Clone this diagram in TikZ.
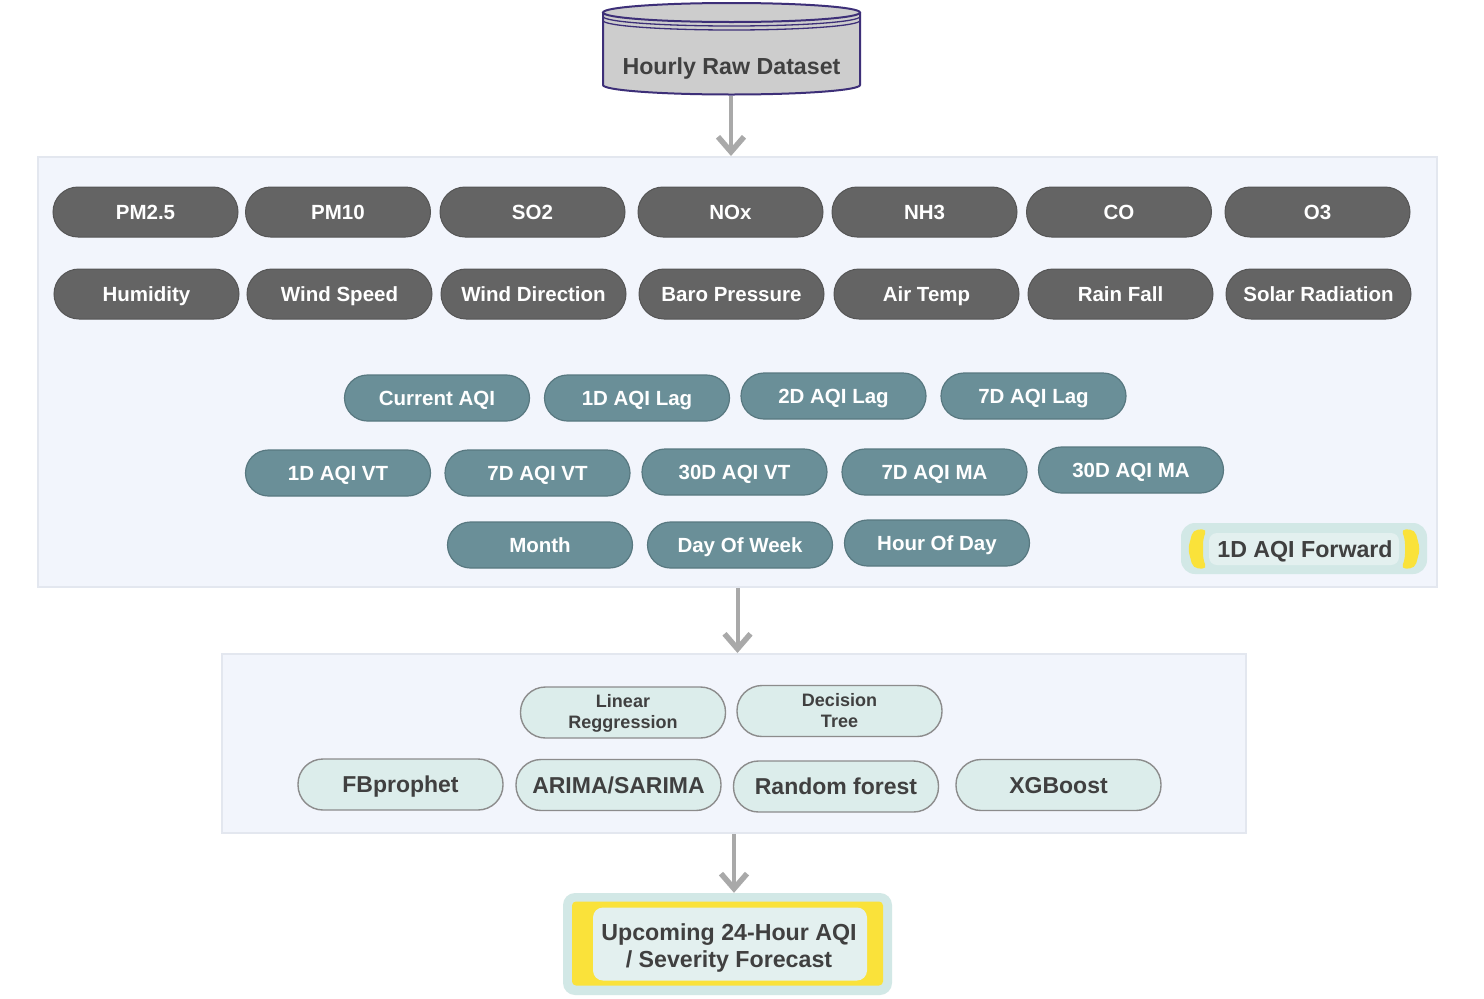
\documentclass[tikz,border=0pt]{standalone}
\usepackage{fontspec}
\setmainfont{Liberation Sans}
\usetikzlibrary{arrows.meta}
\definecolor{panelfill}{HTML}{F2F5FC}
\definecolor{paneledge}{HTML}{E3E7EF}
\definecolor{darkpillc}{HTML}{646464}
\definecolor{darkedge}{HTML}{555555}
\definecolor{tealc}{HTML}{6A8F98}
\definecolor{tealedge}{HTML}{587880}
\definecolor{palec}{HTML}{DCEDEB}
\definecolor{paleedge}{HTML}{8C8C8C}
\definecolor{txtdark}{HTML}{404040}
\definecolor{arrowc}{HTML}{A9A9A9}
\definecolor{cylfill}{HTML}{CDCDCD}
\definecolor{cyledge}{HTML}{3D2F78}
\definecolor{outerteal}{HTML}{D2E8E6}
\definecolor{innerteal}{HTML}{E3F0EF}
\definecolor{yellowc}{HTML}{FAE23A}
\begin{document}
\begin{tikzpicture}[x=1pt,y=-1pt,
  panel/.style={draw=paneledge, line width=2pt, fill=panelfill, inner sep=0pt},
  pillbase/.style={inner sep=0pt, align=center},
  darkpill/.style={pillbase, draw=darkedge, line width=1pt, fill=darkpillc, text=white,
    rounded corners=25pt, minimum width=185pt, minimum height=50pt,
    font=\fontsize{20.5}{24}\selectfont\bfseries, text height=15pt, text depth=0pt},
  tealpill/.style={pillbase, draw=tealedge, line width=1.2pt, fill=tealc, text=white,
    rounded corners=23pt, minimum width=185pt, minimum height=46pt,
    font=\fontsize{20.5}{24}\selectfont\bfseries, text height=15pt, text depth=0pt},
  modelpill/.style={pillbase, draw=paleedge, line width=1.4pt, fill=palec, text=txtdark,
    rounded corners=25pt, minimum width=205pt, minimum height=51pt,
    font=\fontsize{23}{27}\selectfont\bfseries, text height=16.5pt, text depth=0pt},
  smalltext/.style={inner sep=0pt, align=center, text=txtdark,
    font=\fontsize{18}{21}\selectfont\bfseries, text height=13pt, text depth=0pt},
  flow/.style={draw=arrowc, line width=4pt, -{Straight Barb[length=15pt,width=26pt,line width=5.5pt]}},
  bigtext/.style={inner sep=0pt, align=center, text=txtdark, font=\fontsize{23.2}{27}\selectfont\bfseries,
    text height=16.6pt, text depth=0pt}
]
\useasboundingbox (0,0) rectangle (1484,999);
\fill[white] (0,0) rectangle (1484,999);

% panels
\node[panel, minimum width=1399pt, minimum height=430pt] (panel1) at (737.5,372) {};
\node[panel, minimum width=1024pt, minimum height=179pt] (panel2) at (734,743.5) {};

% cylinder
\fill[cylfill] (603,12.5) -- (603,85) .. controls (603,90.25) and (660.5,94.5) .. (731.5,94.5)
  .. controls (802.5,94.5) and (860,90.25) .. (860,85) -- (860,12.5) -- cycle;
\draw[cyledge, line width=2pt] (603,12.5) -- (603,85) .. controls (603,90.25) and (660.5,94.5) .. (731.5,94.5)
  .. controls (802.5,94.5) and (860,90.25) .. (860,85) -- (860,12.5);
\draw[cyledge, line width=2pt, fill=cylfill] (731.5,12.5) ellipse [x radius=128.5, y radius=9.5];
\draw[cyledge, line width=1.3pt] (603,16.5) .. controls (603,21.75) and (660.5,26) .. (731.5,26)
  .. controls (802.5,26) and (860,21.75) .. (860,16.5);
\draw[cyledge, line width=1.3pt] (603,20.5) .. controls (603,25.75) and (660.5,30) .. (731.5,30)
  .. controls (802.5,30) and (860,25.75) .. (860,20.5);
\node[bigtext] (dataset) at (731.5,66) {Hourly Raw Dataset};
\coordinate (cylbot) at (731,95.5);

% row 1
\node[darkpill] (pm25) at (145.5,212) {PM2.5};
\node[darkpill] (pm10) at (338,212) {PM10};
\node[darkpill] (so2)  at (532.5,212) {SO2};
\node[darkpill] (nox)  at (730.5,212) {NOx};
\node[darkpill] (nh3)  at (924.5,212) {NH3};
\node[darkpill] (co)   at (1119,212) {CO};
\node[darkpill] (o3)   at (1317.5,212) {O3};
% row 2
\node[darkpill] (hum)  at (146.5,294) {Humidity};
\node[darkpill] (wsp)  at (339.5,294) {Wind Speed};
\node[darkpill] (wdir) at (533.5,294) {Wind Direction};
\node[darkpill] (baro) at (731.5,294) {Baro Pressure};
\node[darkpill] (air)  at (926.5,294) {Air Temp};
\node[darkpill] (rain) at (1120.5,294) {Rain Fall};
\node[darkpill] (sol)  at (1318.5,294) {Solar Radiation};
% row 3
\node[tealpill] (cur)  at (437,398) {Current AQI};
\node[tealpill] (lag1) at (637,398) {1D AQI Lag};
\node[tealpill] (lag2) at (833.5,396) {2D AQI Lag};
\node[tealpill] (lag7) at (1033.5,396) {7D AQI Lag};
% row 4
\node[tealpill] (vt1)  at (338,473) {1D AQI VT};
\node[tealpill] (vt7)  at (537.5,473) {7D AQI VT};
\node[tealpill] (vt30) at (734.5,472) {30D AQI VT};
\node[tealpill] (ma7)  at (934.5,472) {7D AQI MA};
\node[tealpill] (ma30) at (1131,470) {30D AQI MA};
% row 5
\node[tealpill] (month) at (540,545) {Month};
\node[tealpill] (dow)   at (740,545) {Day Of Week};
\node[tealpill] (hod)   at (937,543) {Hour Of Day};

% 1D AQI Forward
\node[fill=outerteal, rounded corners=14pt, minimum width=246pt, minimum height=51pt, inner sep=0pt] (fwdout) at (1304,548.5) {};
\fill[yellowc, rounded corners=5pt] (1207,529) -- (1193,530) -- (1188,549) -- (1193,568) -- (1207,569) -- (1203,559) -- (1203,539) -- cycle;
\fill[yellowc, rounded corners=5pt] (1401,529) -- (1415,530) -- (1420,549) -- (1415,568) -- (1401,569) -- (1405,559) -- (1405,539) -- cycle;
\node[fill=innerteal, rounded corners=8pt, minimum width=190pt, minimum height=32pt, inner sep=0pt] (fwdin) at (1304,549) {};
\node[bigtext] (fwd) at (1305,549) {1D AQI Forward};

% models
\node[modelpill] (lin) at (623,712.5) {};
\node[smalltext] (lintext) at (623,722) {Linear\\Reggression};
\node[modelpill] (dt)  at (839.5,711) {};
\node[smalltext] (dttext) at (839.5,721) {Decision\\Tree};
\node[modelpill] (fb)    at (400.5,784.5) {FBprophet};
\node[modelpill] (arima) at (618.5,785) {ARIMA/SARIMA};
\node[modelpill] (rf)    at (836,786.5) {Random forest};
\node[modelpill] (xgb)   at (1058.5,785) {XGBoost};

% forecast
\node[fill=outerteal, rounded corners=12pt, minimum width=329pt, minimum height=102pt, inner sep=0pt] (fcout) at (727.5,944) {};
\node[fill=yellowc, rounded corners=4pt, minimum width=311pt, minimum height=84pt, inner sep=0pt] (fcy) at (727.5,943.5) {};
\node[fill=innerteal, rounded corners=10pt, minimum width=274pt, minimum height=73pt, inner sep=0pt] (fcin) at (730,944) {};
\node[bigtext] (fc) at (729,959) {Upcoming 24-Hour AQI\\/ Severity Forecast};

% arrows
\draw[flow] (cylbot) -- (cylbot |- panel1.north);
\draw[flow] (panel1.south) -- (panel1.south |- panel2.north);
\draw[flow] (panel2.south) -- (panel2.south |- fcout.north);
\end{tikzpicture}
\end{document}
